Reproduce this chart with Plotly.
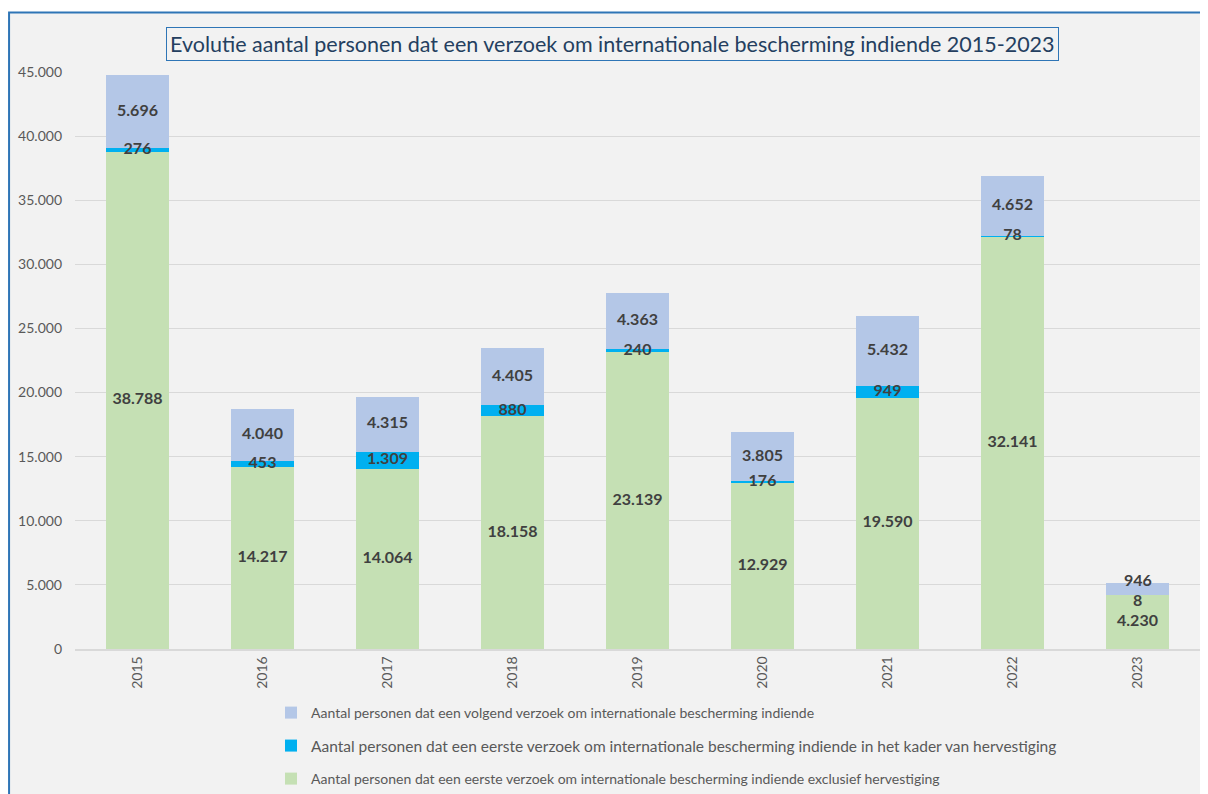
import plotly.graph_objects as go

years = ["2015", "2016", "2017", "2018", "2019", "2020", "2021", "2022", "2023"]
excl_herv = [38788, 14217, 14064, 18158, 23139, 12929, 19590, 32141, 4230]
herv = [276, 453, 1309, 880, 240, 176, 949, 78, 8]
volgend = [5696, 4040, 4315, 4405, 4363, 3805, 5432, 4652, 946]

names = [
    "Aantal personen dat een eerste verzoek om internationale bescherming indiende exclusief hervestiging",
    "Aantal personen dat een eerste verzoek om internationale bescherming indiende in het kader van hervestiging",
    "Aantal personen dat een volgend verzoek om internationale bescherming indiende",
]
colors = ["#c5e0b4", "#00b0f0", "#b4c7e7"]

# page body has an 8px margin; figure sized to fit the viewport
OFF = 8
W, H = 1200, 786
L, R, T, B = 66.5, 7.5, 64, 145
pw, ph = W - L - R, H - T - B

def sx(p):  # screen px -> paper x
    return (p - OFF - L) / pw

def sy(p):  # screen px -> paper y
    return (H - B - (p - OFF)) / ph

def cx(p):  # screen px -> container x
    return (p - OFF) / W

def cy(p):  # screen px -> container y
    return 1 - (p - OFF) / H

fig = go.Figure()
series = [excl_herv, herv, volgend]
legends = ["legend3", "legend2", "legend"]
for vals, nm, col, lg in zip(series, names, colors, legends):
    fig.add_trace(go.Bar(x=years, y=vals, name=nm, marker=dict(color=col, line=dict(width=0)),
                         legend=lg, hoverinfo="skip"))

def fmt(v):
    return f"{v:,}".replace(",", ".")

label_font = dict(family="Lato", size=16, color="#404040", weight="bold")
lab_x, lab_y, lab_t = [], [], []
annots = []
for i, yr in enumerate(years):
    base = 0
    small_bar = sum(s[i] for s in series) < 8000
    for k, vals in enumerate(series):
        mid = base + vals[i] / 2
        if small_bar and k > 0:
            # category axis: annotation x given as category index
            annots.append(dict(x=i, y=mid, xref="x", yref="y", text=fmt(vals[i]), showarrow=False,
                               font=label_font, borderpad=0, yshift=9 if k == 2 else -5))
        else:
            lab_x.append(yr)
            lab_y.append(mid)
            lab_t.append(fmt(vals[i]))
        base += vals[i]
fig.add_trace(go.Scatter(x=lab_x, y=lab_y, text=lab_t, mode="text", showlegend=False,
                         textposition="middle center", textfont=label_font,
                         hoverinfo="skip", cliponaxis=False))

leg_common = dict(xref="container", yref="container", xanchor="left", yanchor="middle",
                  bgcolor="rgba(0,0,0,0)", itemwidth=30)
LEGX = cx(271)

annots.append(dict(text="Evolutie aantal personen dat een verzoek om internationale bescherming indiende 2015-2023",
                   xref="paper", yref="paper", x=sx(612), y=sy(44), xanchor="center", yanchor="middle",
                   showarrow=False, font=dict(family="Lato", size=21.5, color="#243f60"),
                   bordercolor="#2e75b6", borderwidth=1, borderpad=3, bgcolor="#f2f2f2"))

fig.update_layout(
    width=W, height=H, barmode="stack", bargap=0.5,
    margin=dict(l=L, r=R, t=T, b=B, pad=0, autoexpand=False),
    paper_bgcolor="white", plot_bgcolor="rgba(0,0,0,0)",
    separators=",.",
    font=dict(family="Lato", color="#595959"),
    xaxis=dict(type="category", tickangle=-90, tickfont=dict(size=14, color="#595959"), showgrid=False,
               automargin=False, showline=True, linecolor="#d9d9d9", linewidth=1.5, ticks="", ticklen=0),
    yaxis=dict(range=[0, 45000], dtick=5000, tickformat=",d", gridcolor="#d9d9d9", gridwidth=1,
               tickfont=dict(size=14, color="#595959"), zeroline=False, ticks="", automargin=False,
               ticklabelstandoff=12),
    legend=dict(x=LEGX, y=cy(713), font=dict(size=14, color="#595959"), **leg_common),
    legend2=dict(x=LEGX, y=cy(746), font=dict(size=15.5, color="#595959"), **leg_common),
    legend3=dict(x=LEGX, y=cy(779), font=dict(size=14, color="#595959"), **leg_common),
    shapes=[dict(type="rect", xref="paper", yref="paper", layer="below",
                 x0=sx(8.5), x1=sx(1240), y0=sy(830), y1=sy(12.5),
                 line=dict(color="#2e75b6", width=2), fillcolor="#f2f2f2")],
    annotations=annots,
)

fig.write_html("out.html")
